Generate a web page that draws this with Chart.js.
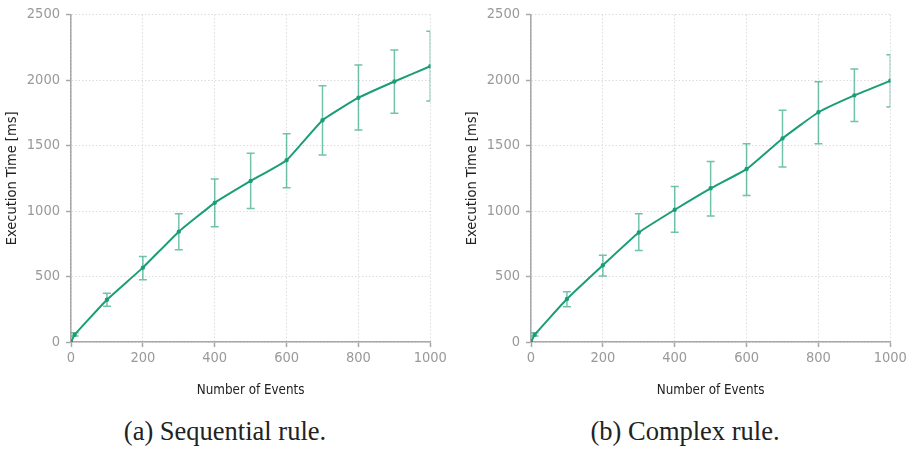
<!DOCTYPE html>
<html>
<head>
<meta charset="utf-8">
<script src="https://cdn.jsdelivr.net/npm/chart.js@4"></script>
<style>
  html, body { margin: 0; padding: 0; background: #fff; }
  body { width: 914px; height: 449px; position: relative; overflow: hidden; }
  canvas { position: absolute; top: 0; }
  #c1 { left: 0; }
  #c2 { left: 460px; }
  .cap { position: absolute; top: 415px; font-family: "Liberation Serif", "Times New Roman", serif; font-size: 26.5px; color: #222; white-space: nowrap; transform: translateX(-50%); line-height: 32px; }
</style>
</head>
<body>
<canvas id="c1" width="450" height="400"></canvas>
<canvas id="c2" width="450" height="400"></canvas>
<div class="cap" id="capA" style="left:225px">(a) Sequential rule.</div>
<div class="cap" id="capB" style="left:685px">(b) Complex rule.</div>
<script>
// ---- data ----
const numEvents = [0, 10, 100, 200, 300, 400, 500, 600, 700, 800, 900, 1000];

const seqMean = [0, 55, 323, 568, 843, 1063, 1230, 1389, 1694, 1866, 1990, 2106];
const seqLow  = [0, 45, 273, 475, 705, 881, 1020, 1179, 1429, 1619, 1747, 1841];
const seqHigh = [0, 70, 373, 654, 980, 1245, 1442, 1591, 1957, 2116, 2230, 2374];

const cpxMean = [0, 55, 328, 586, 836, 1010, 1174, 1321, 1555, 1755, 1884, 1995];
const cpxLow  = [0, 45, 270, 505, 699, 838, 962, 1119, 1336, 1515, 1684, 1795];
const cpxHigh = [0, 70, 384, 662, 980, 1187, 1379, 1515, 1770, 1987, 2086, 2195];

const xTitle = "Number of Events";
const yTitle = "Execution Time [ms]";

// ---- styling ----
const FONT = '"DejaVu Sans Condensed", "DejaVu Sans", sans-serif';
const LINE = '#1b9e77';
const ERR = 'rgba(27,158,119,0.62)';
const AXIS = '#a8a8a8';
const GRID = '#dcdcdc';

const errorBars = {
  id: 'errorBars',
  beforeDatasetsDraw(chart, args, opts) {
    const {ctx, chartArea, scales} = chart;
    const xs = scales.x, ys = scales.y;
    ctx.save();
    ctx.beginPath();
    ctx.rect(chartArea.left, chartArea.top, chartArea.right - chartArea.left, chartArea.bottom - chartArea.top);
    ctx.clip();
    ctx.strokeStyle = ERR;
    ctx.lineWidth = 1.5;
    for (let i = 0; i < opts.x.length; i++) {
      if (opts.low[i] === opts.high[i]) continue;
      const px = xs.getPixelForValue(opts.x[i]);
      const pl = ys.getPixelForValue(opts.low[i]);
      const ph = ys.getPixelForValue(opts.high[i]);
      ctx.beginPath();
      ctx.moveTo(px, pl); ctx.lineTo(px, ph);
      ctx.moveTo(px - 4, pl); ctx.lineTo(px + 4, pl);
      ctx.moveTo(px - 4, ph); ctx.lineTo(px + 4, ph);
      ctx.stroke();
    }
    ctx.restore();
  }
};

function makeChart(id, mean, low, high) {
  const pts = numEvents.map((x, i) => ({x: x, y: mean[i]}));
  return new Chart(document.getElementById(id), {
    type: 'line',
    data: {
      datasets: [{
        data: pts,
        borderColor: LINE,
        backgroundColor: LINE,
        borderWidth: 2,
        pointRadius: 1.2,
        pointHoverRadius: 1.2,
        tension: 0.12,
        fill: false
      }]
    },
    options: {
      responsive: false,
      animation: false,
      devicePixelRatio: 1,
      layout: { padding: { top: 12, right: 19.7, left: 0, bottom: 0 } },
      plugins: {
        legend: { display: false },
        tooltip: { enabled: false },
        errorBars: { x: numEvents, low: low, high: high }
      },
      scales: {
        x: {
          type: 'linear', min: 0, max: 1000,
          afterFit(s) { s.height = 58; },
          ticks: { stepSize: 200, color: '#999', font: { family: FONT, size: 14.5 }, padding: 3, maxRotation: 0,
                   callback: (v) => String(v) },
          grid: { color: GRID, lineWidth: 1, tickLength: 5, tickColor: AXIS, tickWidth: 1.5 },
          border: { display: true, color: AXIS, width: 1.5, dash: [1.5, 2] },
          title: { display: true, text: xTitle, color: '#222', font: { family: FONT, size: 13.3 }, padding: { top: 0, bottom: 1.5 } }
        },
        y: {
          min: 0, max: 2500,
          afterFit(s) { s.width = 71; },
          ticks: { stepSize: 500, color: '#999', font: { family: FONT, size: 14.5 }, padding: 6,
                   callback: (v) => String(v) },
          grid: { color: GRID, lineWidth: 1, tickLength: 5, tickColor: AXIS, tickWidth: 1.5 },
          border: { display: true, color: AXIS, width: 1.5, dash: [1.5, 2] },
          title: { display: true, text: yTitle, color: '#222', font: { family: FONT, size: 14.5 }, padding: { top: 4, bottom: 0 } }
        }
      }
    },
    plugins: [errorBars]
  });
}

makeChart('c1', seqMean, seqLow, seqHigh);
makeChart('c2', cpxMean, cpxLow, cpxHigh);
</script>
</body>
</html>
